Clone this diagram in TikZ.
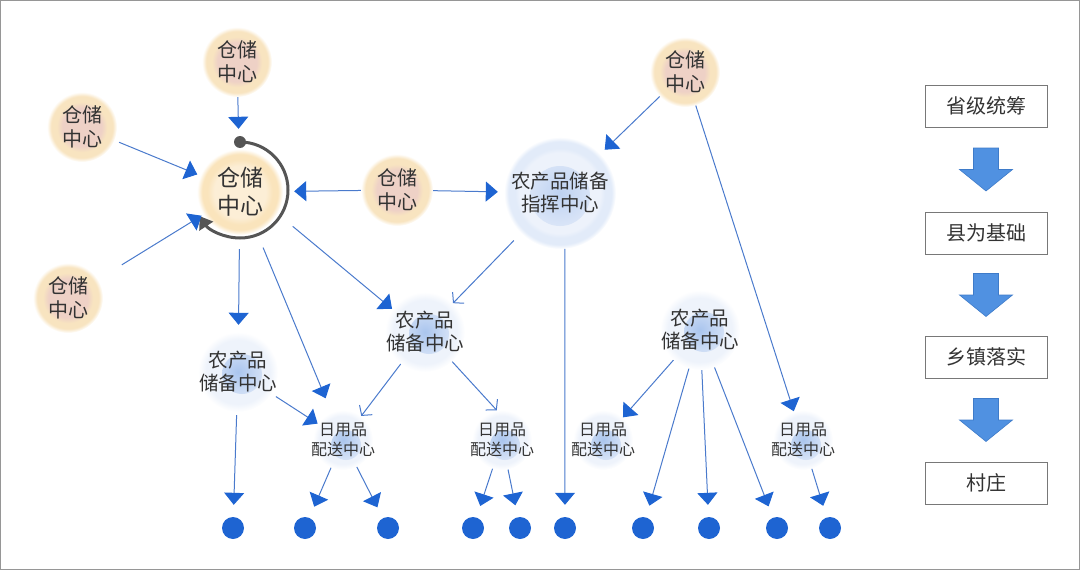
\documentclass[tikz,border=0pt]{standalone}
\usepackage{fontspec}
\setmainfont{Noto Sans CJK SC}
\usepackage{xcolor}
\usetikzlibrary{arrows.meta,calc}
\definecolor{framegrey}{RGB}{150,150,150}
\definecolor{inkgrey}{RGB}{51,51,51}
\definecolor{lineblue}{RGB}{74,122,204}
\definecolor{tipblue}{RGB}{30,100,210}
\definecolor{loopgrey}{RGB}{85,85,85}
\definecolor{whouter}{RGB}{248,228,192}
\definecolor{whinner}{RGB}{238,209,198}
\definecolor{hubouter}{RGB}{250,228,188}
\definecolor{hubinner}{RGB}{252,238,214}
\definecolor{compale}{RGB}{226,235,249}
\definecolor{cominner}{RGB}{237,242,251}
\definecolor{comblob}{RGB}{190,210,242}
\definecolor{storepale}{RGB}{238,243,251}
\definecolor{storeblob}{RGB}{170,197,238}
\definecolor{arrowfill}{RGB}{80,145,225}
\definecolor{arrowedge}{RGB}{62,123,201}
\definecolor{boxedge}{RGB}{120,120,120}
\pgfdeclareradialshading{whshade}{\pgfpoint{0bp}{0bp}}{%
  color(0bp)=(whinner); color(14bp)=(whinner); color(18bp)=(whouter);
  color(22bp)=(whouter); color(25bp)=(white); color(50bp)=(white)}
\pgfdeclareradialshading{hubshade}{\pgfpoint{0bp}{0bp}}{%
  color(0bp)=(hubinner); color(15bp)=(hubinner); color(19bp)=(hubouter);
  color(22bp)=(hubouter); color(25bp)=(white); color(50bp)=(white)}
\pgfdeclareradialshading{cmdshade}{\pgfpoint{0bp}{0bp}}{%
  color(0bp)=(cominner); color(18bp)=(cominner); color(20bp)=(compale);
  color(23bp)=(compale); color(25bp)=(white); color(50bp)=(white)}
\pgfdeclareradialshading{storeshade}{\pgfpoint{0bp}{0bp}}{%
  color(0bp)=(storepale); color(20bp)=(storepale);
  color(25bp)=(white); color(50bp)=(white)}
\tikzset{
  warehouse/.style={circle,shade,shading=whshade,minimum size=70pt,inner sep=0pt,
    align=center,text=inkgrey,font=\fontsize{20}{24}\selectfont},
  hubwarehouse/.style={circle,shade,shading=hubshade,minimum size=86pt,inner sep=0pt,
    align=center,text=inkgrey,font=\fontsize{23}{28}\selectfont},
  command/.style={circle,shade,shading=cmdshade,minimum size=112pt,inner sep=0pt,
    align=center,text=inkgrey,font=\fontsize{19.5}{23}\selectfont,
    path picture={\shade[inner color=comblob,outer color=cominner]
      ($(path picture bounding box.center)+(0,3)$) circle (30pt);}},
  storage/.style={circle,shade,shading=storeshade,minimum size=80pt,inner sep=-4pt,
    align=center,text=inkgrey,font=\fontsize{19.5}{23}\selectfont,
    path picture={\shade[inner color=storeblob,outer color=storepale]
      ($(path picture bounding box.center)+(4,2)$) circle (20pt);}},
  delivery/.style={circle,shade,shading=storeshade,minimum size=60pt,inner sep=-6pt,
    align=center,text=inkgrey,font=\fontsize{16}{20}\selectfont,
    path picture={\shade[inner color=storeblob,outer color=storepale]
      ($(path picture bounding box.center)+(3,5)$) circle (15pt);}},
  village/.style={circle,fill=tipblue,minimum size=22pt,inner sep=0pt},
  loopdot/.style={circle,fill=loopgrey,minimum size=12pt,inner sep=0pt},
  levelbox/.style={draw=boxedge,line width=1pt,minimum width=122pt,
    minimum height=42pt,text=inkgrey,font=\fontsize{20}{24}\selectfont},
  flow/.style={draw=lineblue,line width=1pt,
    -{Triangle[length=12pt,width=20pt,color=tipblue]}},
  openflow/.style={draw=lineblue,line width=1pt,
    -{Straight Barb[length=7pt,width=16pt]}},
  looparrow/.style={draw=loopgrey,line width=3pt,
    -{Triangle[length=12pt,width=16pt]}},
  levelarrow/.pic={
    \filldraw[fill=arrowfill,draw=arrowedge,line width=0.6pt]
      (-12.5,-21.5) -- (12.5,-21.5) -- (12.5,0) -- (26.5,0) -- (0,21.5)
      -- (-26.5,0) -- (-12.5,0) -- cycle;}
}
\begin{document}
\begin{tikzpicture}[x=1pt,y=-1pt]
  \useasboundingbox (0,0) rectangle (1080,570);
  \draw[framegrey,line width=1pt] (0.5,0.5) rectangle (1079.5,569.5);

  \node[warehouse] (wtop) at (237,62) {仓储\\中心};
  \node[warehouse] (wleft) at (82,127) {仓储\\中心};
  \node[warehouse] (wlow) at (68,298) {仓储\\中心};
  \node[hubwarehouse] (whub) at (240,192) {仓储\\中心};
  \node[warehouse,minimum size=72pt] (wmid) at (397,190) {仓储\\中心};
  \node[warehouse] (wright) at (685,72) {仓储\\中心};
  \node[command] (cmd) at (560,193) {农产品储备\\指挥中心};

  \node[storage] (sleft) at (238,372) {农产品\\储备中心};
  \node[storage] (smid) at (425,332) {农产品\\储备中心};
  \node[storage] (sright) at (700,330) {农产品\\储备中心};

  \node[delivery] (dA) at (343,440) {日用品\\配送中心};
  \node[delivery] (dB) at (502,440) {日用品\\配送中心};
  \node[delivery] (dC) at (603,440) {日用品\\配送中心};
  \node[delivery] (dD) at (803,440) {日用品\\配送中心};

  \foreach \x [count=\i] in {233,305,388,473,520,565,643,709,777,830}
    \node[village] (v\i) at (\x,528) {};

  \node[loopdot] (loopstart) at (240,142) {};
  \draw[looparrow] (loopstart.center) arc[start angle=-90,end angle=147,radius=48];

  \draw[flow,shorten >=20pt] (wtop) -- (whub);
  \draw[flow,shorten <=5pt,shorten >=3pt] (wleft) -- (whub);
  \draw[flow,shorten <=28pt,shorten >=2pt] (wlow) -- (whub);
  \draw[flow,shorten >=11pt] (wmid) -- (whub);
  \draw[flow,shorten >=6pt] (wmid) -- (cmd);
  \draw[flow,shorten >=6pt] (wright) -- (cmd);
  \draw[flow] (wright) -- (dD);
  \draw[flow,shorten <=14pt,shorten >=7pt] (whub) -- (sleft);
  \draw[flow,shorten <=17pt,shorten >=15pt] (whub) -- (dA);
  \draw[flow,shorten <=20pt] (whub.-30) -- (smid.145);
  \draw[openflow,shorten <=10pt] (cmd) -- (smid);
  \draw[flow,shorten >=12pt] (cmd.-85) -- (v6);
  \draw[flow,shorten <=5pt] (sleft) -- (dA);
  \draw[flow,shorten <=3pt,shorten >=12pt] (sleft) -- (v1);
  \draw[openflow] (smid) -- (dA);
  \draw[openflow] (smid) -- (dB.100);
  \draw[flow,shorten >=12pt] (dA) -- (v2);
  \draw[flow,shorten >=12pt] (dA) -- (v3);
  \draw[flow,shorten >=12pt] (dB) -- (v4);
  \draw[flow,shorten >=12pt] (dB) -- (v5);
  \draw[flow] (sright) -- (dC);
  \draw[flow,shorten >=12pt] (sright) -- (v7);
  \draw[flow,shorten >=12pt] (sright) -- (v8);
  \draw[flow,shorten >=12pt] (sright) -- (v9);
  \draw[flow,shorten >=12pt] (dD) -- (v10);

  \node[levelbox] (lvprov) at (986,106) {省级统筹};
  \node[levelbox] (lvcounty) at (986,233) {县为基础};
  \node[levelbox] (lvtown) at (986,357) {乡镇落实};
  \node[levelbox] (lvvillage) at (986,483) {村庄};
  \pic at ($(lvprov.south)!0.5!(lvcounty.north)$) {levelarrow};
  \pic at ($(lvcounty.south)!0.5!(lvtown.north)$) {levelarrow};
  \pic at ($(lvtown.south)!0.5!(lvvillage.north)$) {levelarrow};
\end{tikzpicture}
\end{document}
